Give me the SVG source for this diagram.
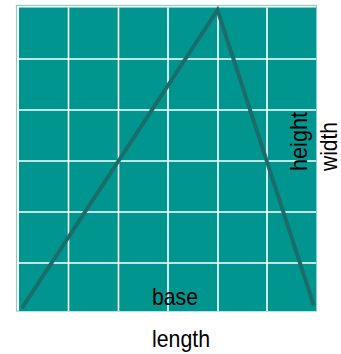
<svg xmlns="http://www.w3.org/2000/svg" width="341" height="354" viewBox="0 0 341 354">
<style>
.lbl{font-family:"Liberation Sans",Arial,sans-serif;font-size:24px;fill:#000}
.grid{stroke:#ffffff;stroke-width:1.6;fill:none}
.edge{stroke:#1a6d6a;stroke-width:4;fill:none;stroke-linecap:butt;stroke-linejoin:miter}
</style>
<rect width="341" height="354" fill="#ffffff"/>
<g id="board">
<rect x="16.5" y="5.5" width="300" height="305.5" fill="#ffffff" stroke="#86cfcb" stroke-width="1.2"/>
<rect x="19" y="7.5" width="297" height="303.5" fill="#00968f"/>
<g class="grid">
<line x1="68.5" y1="7.5" x2="68.5" y2="311"/>
<line x1="118.5" y1="7.5" x2="118.5" y2="311"/>
<line x1="168" y1="7.5" x2="168" y2="311"/>
<line x1="218" y1="7.5" x2="218" y2="311"/>
<line x1="267" y1="7.5" x2="267" y2="311"/>
<line x1="19" y1="59" x2="316" y2="59"/>
<line x1="19" y1="110" x2="316" y2="110"/>
<line x1="19" y1="161" x2="316" y2="161"/>
<line x1="19" y1="212" x2="316" y2="212"/>
<line x1="19" y1="263" x2="316" y2="263"/>
</g>
</g>
<g id="connectors">
<polyline class="edge" points="22,308 217.5,10 314,306"/>
</g>
<g id="labels">
<text class="lbl" x="152" y="305" textLength="46" lengthAdjust="spacingAndGlyphs">base</text>
<text class="lbl" x="152" y="347" textLength="58" lengthAdjust="spacingAndGlyphs">length</text>
<text class="lbl" transform="translate(307,171) rotate(-90)" textLength="59" lengthAdjust="spacingAndGlyphs">height</text>
<text class="lbl" transform="translate(337,171) rotate(-90)" textLength="49" lengthAdjust="spacingAndGlyphs">width</text>
</g>
</svg>
